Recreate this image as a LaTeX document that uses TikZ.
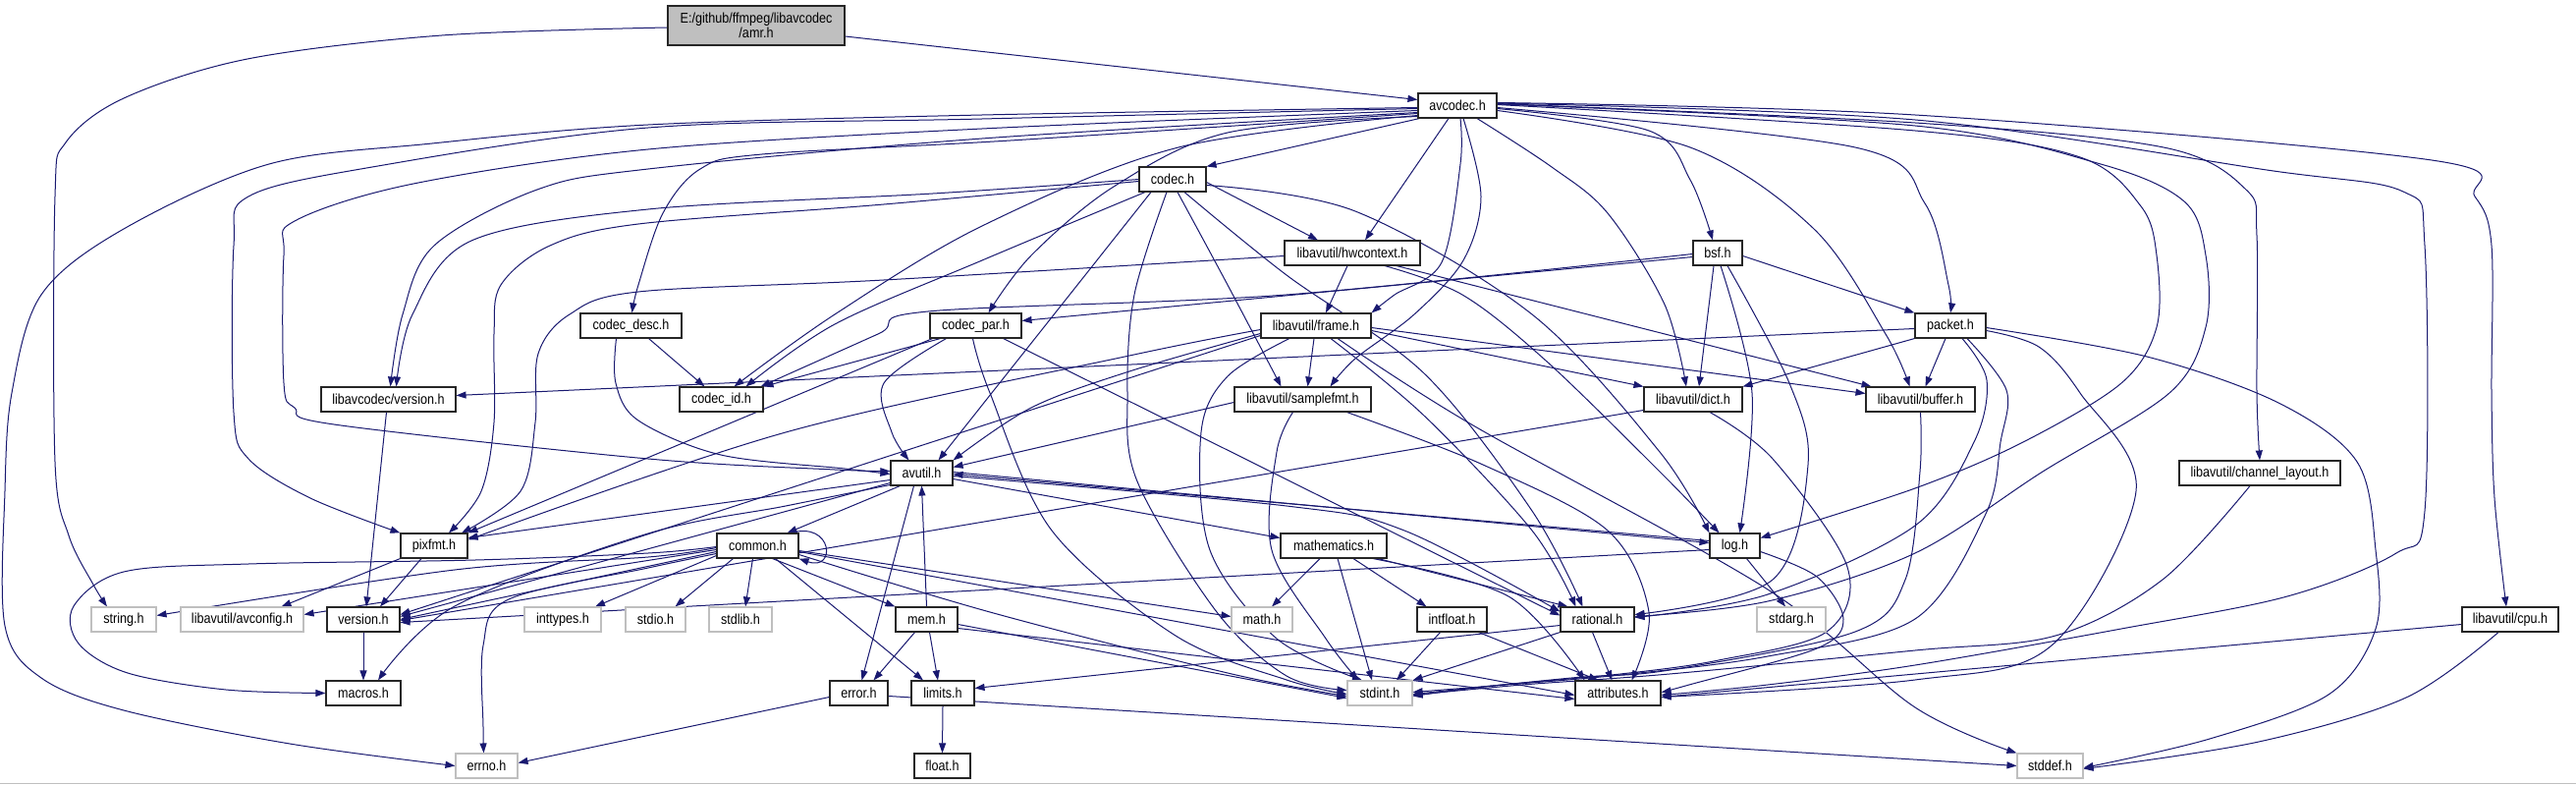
\documentclass[tikz,border=0pt]{standalone}
\usepackage{fontspec}
\setmainfont{Liberation Sans}[FakeStretch=0.87]
\usetikzlibrary{arrows.meta,backgrounds}
\definecolor{edgec}{HTML}{191970}
\definecolor{gbord}{HTML}{BFBFBF}
\definecolor{amrfill}{HTML}{BFBFBF}
\newcommand\cedge[1]{\draw[e] plot[smooth,tension=0.55] coordinates {#1};}
\begin{document}
\begin{tikzpicture}[x=1pt,y=-1pt,
  nd/.style={draw=black!85,line width=1.1pt,fill=white,inner sep=0pt,minimum height=25pt,text=black,font=\fontsize{14.5}{15}\selectfont},
  gn/.style={nd,draw=gbord},
  e/.style={draw=edgec,line width=1pt,-{Triangle[length=10pt,width=7pt]}}]
\useasboundingbox (0,0) rectangle (2623,799);
% nodes
\node[nd,fill=amrfill,minimum width=180pt,minimum height=40pt,align=center] (amr) at (770,26) {E:/github/ffmpeg/libavcodec\\/amr.h};
\node[nd,minimum width=80pt] (avcodec) at (1484,107.5) {avcodec.h};
\node[nd,minimum width=68pt] (codec) at (1194,182.5) {codec.h};
\node[nd,minimum width=138pt] (hwctx) at (1377,257.5) {libavutil/hwcontext.h};
\node[nd,minimum width=50pt] (bsf) at (1749,257.5) {bsf.h};
\node[nd,minimum width=103pt] (codecdesc) at (642.5,331.5) {codec\_desc.h};
\node[nd,minimum width=93pt] (codecpar) at (993.5,331.5) {codec\_par.h};
\node[nd,minimum width=112pt] (frame) at (1340,331.5) {libavutil/frame.h};
\node[nd,minimum width=72pt] (packet) at (1986,331.5) {packet.h};
\node[nd,minimum width=137pt] (lversion) at (395.5,406.5) {libavcodec/version.h};
\node[nd,minimum width=85pt] (codecid) at (734.5,406.5) {codec\_id.h};
\node[nd,minimum width=139pt] (samplefmt) at (1326.5,406.5) {libavutil/samplefmt.h};
\node[nd,minimum width=100pt] (dict) at (1724,406.5) {libavutil/dict.h};
\node[nd,minimum width=111pt] (buffer) at (1955.5,406.5) {libavutil/buffer.h};
\node[nd,minimum width=63pt] (avutil) at (938.5,481.5) {avutil.h};
\node[nd,minimum width=164pt] (chlayout) at (2301,481.5) {libavutil/channel\_layout.h};
\node[nd,minimum width=68pt] (pixfmt) at (442,555.5) {pixfmt.h};
\node[nd,minimum width=83pt] (common) at (771.5,555.5) {common.h};
\node[nd,minimum width=108pt] (mathematics) at (1358,555.5) {mathematics.h};
\node[nd,minimum width=51pt] (log) at (1766.5,555.5) {log.h};
\node[gn,minimum width=66pt] (string) at (126,630.5) {string.h};
\node[gn,minimum width=125pt] (avconfig) at (246.5,630.5) {libavutil/avconfig.h};
\node[nd,minimum width=74pt] (version) at (370,630.5) {version.h};
\node[gn,minimum width=78pt] (inttypes) at (573,630.5) {inttypes.h};
\node[gn,minimum width=61pt] (stdio) at (667.5,630.5) {stdio.h};
\node[gn,minimum width=64pt] (stdlib) at (754,630.5) {stdlib.h};
\node[nd,minimum width=63pt] (mem) at (943.5,630.5) {mem.h};
\node[gn,minimum width=62pt] (math) at (1285,630.5) {math.h};
\node[nd,minimum width=71pt] (intfloat) at (1478.5,630.5) {intfloat.h};
\node[nd,minimum width=75pt] (rational) at (1626.5,630.5) {rational.h};
\node[gn,minimum width=70pt] (stdarg) at (1824,630.5) {stdarg.h};
\node[nd,minimum width=98pt] (cpu) at (2556,630.5) {libavutil/cpu.h};
\node[nd,minimum width=76pt] (macros) at (370,705.5) {macros.h};
\node[nd,minimum width=59pt] (error) at (874.5,705.5) {error.h};
\node[nd,minimum width=64pt] (limits) at (960,705.5) {limits.h};
\node[gn,minimum width=66pt] (stdint) at (1405,705.5) {stdint.h};
\node[nd,minimum width=87pt] (attributes) at (1647.5,705.5) {attributes.h};
\node[gn,minimum width=63pt] (errno) at (495.5,779.5) {errno.h};
\node[nd,minimum width=57pt] (float) at (959.5,779.5) {float.h};
\node[gn,minimum width=67pt] (stddef) at (2087.5,779.5) {stddef.h};

\begin{scope}[on background layer]
\fill[white] (0,0) rectangle (2623,799);
\draw[gbord,line width=1pt] (0,797.5) -- (2623,797.5);
% amr.h
\draw[e] ([yshift=-11pt]amr.east) -- ([yshift=6pt]avcodec.west);
\cedge{([yshift=-2pt]amr.west) (450,36) (252,60) (126,100) (67,145) (56,200) (56,470) (70,545) (95,595) ([xshift=-17pt]string.north)}
% avcodec.h
\cedge{([yshift=-2pt]avcodec.west) (1000,117) (660,127) (440,146) (274,167) (126,233) (42,300) (12,400) (5,500) (5,637) (42,690) (126,723) (295,757) (errno.west)}
\cedge{([yshift=-3pt]avcodec.west) (1000,121) (660,130) (379,170) (253,200) (238,250) (238,420) (253,467) (316,507) (pixfmt.north west)}
\cedge{([yshift=-5pt]avcodec.west) (1000,131) (660,152) (421,187) (300,225) (289,260) (289,390) (300,415) (340,432) (660,467) (850,478) ([yshift=2pt]avutil.west)}
\cedge{([yshift=-7pt]avcodec.west) (1000,141) (660,172) (547,193) (442,250) (410,320) ([xshift=2pt]lversion.north)}
\cedge{([yshift=-8pt]avcodec.west) (1029,143) (776,157) (713,172) (675,217) (650,290) ([xshift=1pt]codecdesc.north)}
\cedge{([yshift=-10pt]avcodec.west) (1200,150) (1000,230) (850,320) ([xshift=13pt]codecid.north)}
\draw[e] ([xshift=2pt]avcodec.south west) -- (codec.north east);
\cedge{([yshift=-11pt]avcodec.west) (1250,135) (1134,190) (1050,260) ([xshift=13pt]codecpar.north)}
\draw[e] ([xshift=-9pt]avcodec.south) -- ([xshift=13pt]hwctx.north);
\cedge{([xshift=3pt]avcodec.south) (1487,167) (1468,267) (1420,300) (frame.north east)}
\cedge{([xshift=6pt]avcodec.south) (1508,200) (1490,265) (1440,320) (1380,365) ([xshift=28pt]samplefmt.north)}
\cedge{([xshift=20pt]avcodec.south) (1580,170) (1637,217) (1695,310) ([xshift=-7pt]dict.north)}
\cedge{([yshift=-3pt]avcodec.east) (1679,133) (1721,183) ([xshift=-5pt]bsf.north)}
\cedge{([yshift=-5pt]avcodec.east) (1721,150) (1847,233) (1920,340) ([xshift=-11pt]buffer.north)}
\cedge{([yshift=-2pt]avcodec.east) (1889,150) (1960,207) (1984,290) (packet.north)}
\cedge{([yshift=1pt]avcodec.east) (1950,133) (2118,160) (2180,210) (2196,260) (2196,333) (2160,390) (2060,450) (1950,497) ([yshift=8pt]log.east)}
\cedge{([yshift=1.5pt]avcodec.east) (1950,128) (2139,167) (2224,205) (2246,260) (2246,333) (2209,400) (2080,480) (1950,563) (1800,612) ([yshift=3pt]rational.east)}
\cedge{([yshift=2pt]avcodec.east) (1950,125) (2203,150) (2287,193) (2298,240) (2298,400) (chlayout.north)}
\cedge{([yshift=2.5pt]avcodec.east) (1950,122) (2308,173) (2447,195) (2469,250) (2469,520) (2440,563) (2329,607) (2160,640) (1950,677) (1800,697) ([yshift=-2pt]attributes.east)}
\cedge{([yshift=3pt]avcodec.east) (1950,117) (2476,163) (2520,200) (2537,250) (2537,400) (2540,507) ([xshift=-4pt]cpu.north)}
% codec.h
\cedge{(codec.west) (950,197) (660,213) (480,245) (420,320) ([xshift=8pt]lversion.north)}
\cedge{([yshift=-2pt]codec.west) (900,208) (650,228) (560,250) (510,290) (503,340) (503,430) (490,500) ([xshift=15pt]pixfmt.north)}
\draw[e] ([xshift=-22pt]codec.south) -- ([xshift=17pt]avutil.north);
\cedge{([xshift=-28pt]codec.south) (1000,265) (850,330) ([xshift=25pt]codecid.north)}
\draw[e] ([yshift=-3pt]codec.east) -- ([xshift=-35pt]hwctx.north);
\cedge{([xshift=5pt]codec.south) (1250,290) ([xshift=-22pt]samplefmt.north)}
\cedge{([xshift=12pt]codec.south) (1310,280) (1450,380) (1560,520) ([xshift=-15pt]rational.north)}
\cedge{([yshift=-6pt]codec.east) (1380,215) (1560,320) (1690,460) (log.north west)}
\cedge{([xshift=-6pt]codec.south) (1155,300) (1148,400) (1158,490) (1239,623) (1310,688) ([yshift=3pt]stdint.west)}
% codec_desc.h
\draw[e] ([xshift=18pt]codecdesc.south) -- ([xshift=-17pt]codecid.north);
\cedge{([xshift=-15pt]codecdesc.south) (627,390) (650,428) (734,463) (860,477) ([yshift=-1pt]avutil.west)}
% codec_par.h
\draw[e] ([xshift=-36pt]codecpar.south) -- (codecid.north east);
\cedge{([xshift=-30pt]codecpar.south) (900,390) (908,440) ([xshift=-13pt]avutil.north)}
\draw[e] ([xshift=-44pt]codecpar.south) -- (pixfmt.north east);
\cedge{([xshift=-3pt]codecpar.south) (1008,400) (1071,540) (1197,647) (1310,692) ([yshift=-1pt]stdint.west)}
\draw[e] ([xshift=28pt]codecpar.south) -- ([yshift=4pt]rational.west);
% hwcontext.h
\draw[e] ([xshift=-5pt]hwctx.south) -- ([xshift=10pt]frame.north);
\cedge{([yshift=-3pt]hwctx.west) (900,285) (650,297) (580,320) (548,360) (545,430) (530,500) ([xshift=28pt]pixfmt.north)}
\cedge{([xshift=33pt]hwctx.south) (1489,300) (1574,367) (1690,480) ([xshift=-16pt]log.north)}
\draw[e] ([xshift=45pt]hwctx.south) -- ([xshift=-50pt]buffer.north);
% bsf.h
\draw[e] ([yshift=-4pt]bsf.west) -- ([yshift=5pt]codecpar.east);
\cedge{([yshift=-1pt]bsf.west) (1310,300) (945,317) (894,340) ([xshift=40pt]codecid.north)}
\draw[e] ([xshift=-4pt]bsf.south) -- ([xshift=6pt]dict.north);
\cedge{([xshift=3pt]bsf.south) (1784,400) ([xshift=5pt]log.north)}
\cedge{([xshift=10pt]bsf.south) (1822,390) (1841,473) (1805,590) ([yshift=5pt]rational.east)}
\draw[e] ([yshift=-3pt]bsf.east) -- (packet.north west);
% frame.h
\cedge{([yshift=-4pt]frame.west) (1150,362) (800,440) ([yshift=6pt]pixfmt.east)}
\cedge{([yshift=-8pt]frame.west) (1150,378) (1050,415) (avutil.north east)}
\draw[e] ([xshift=-2pt]frame.south) -- ([xshift=5pt]samplefmt.north);
\cedge{([xshift=-27pt]frame.south) (1250,383) (1223,440) (1232,560) (1300,650) ([xshift=-18pt]stdint.north)}
\draw[e] ([yshift=-10pt]frame.west) -- ([yshift=5pt]version.east);
\cedge{([xshift=15pt]frame.south) (1450,423) (1560,540) ([xshift=-22pt]rational.north)}
\draw[e] ([yshift=-5pt]frame.east) -- (dict.north west);
\draw[e] ([yshift=-2pt]frame.east) -- ([yshift=6pt]buffer.west);
\cedge{([xshift=22pt]frame.south) (1500,433) (1800,600) (1950,720) (stddef.north west)}
% packet.h
\draw[e] ([yshift=-3pt]packet.west) -- ([yshift=4pt]lversion.east);
\draw[e] ([xshift=-5pt]packet.south) -- ([xshift=5pt]buffer.north);
\draw[e] (packet.south west) -- (dict.north east);
\cedge{([xshift=12pt]packet.south) (2023,387) (2010,450) (1950,535) (1800,605) ([yshift=2pt]rational.east)}
\cedge{([xshift=17pt]packet.south) (2043,397) (2037,450) (2022,523) (1950,630) (1800,668) (1650,687) (1520,698) ([yshift=1pt]stdint.east)}
\cedge{([yshift=-5pt]packet.east) (2076,353) (2118,400) (2175,500) (2089,657) (1950,692) ([yshift=-4pt]attributes.east)}
\cedge{([yshift=-2pt]packet.east) (2186,363) (2320,410) (2400,470) (2419,560) (2419,640) (2371,707) (2250,752) ([yshift=-2pt]stddef.east)}
% samplefmt.h
\draw[e] ([yshift=-3pt]samplefmt.west) -- ([yshift=6pt]avutil.east);
\cedge{([xshift=-10pt]samplefmt.south) (1300,460) (1295,560) (1350,650) ([xshift=-22pt]stdint.north)}
\cedge{([xshift=45pt]samplefmt.south) (1510,473) (1637,540) (1679,623) ([xshift=14pt]attributes.north)}
% dict.h
\draw[e] ([yshift=-11pt]dict.west) -- ([yshift=-1pt]version.east);
\cedge{([xshift=17pt]dict.south) (1805,467) (1881,577) (1860,643) (1750,672) (1650,686) (1520,698) ([yshift=-3pt]stdint.east)}
% buffer.h
\cedge{(buffer.south) (1955,480) (1940,590) (1889,643) (1700,682) (1600,690) ([yshift=-1pt]stdint.east)}
% avutil.h
\draw[e] ([xshift=-22pt]avutil.south) -- ([xshift=30pt]common.north);
\draw[e] ([xshift=-8pt]avutil.south) -- ([xshift=3pt]error.north);
\draw[e] ([yshift=-6pt]avutil.east) -- ([yshift=8pt]mathematics.west);
\draw[e] ([yshift=1pt]avutil.east) -- ([yshift=3pt]log.west);
\cedge{([yshift=-3pt]avutil.east) (1310,515) (1430,540) ([yshift=8pt]rational.west)}
\draw[e] ([yshift=-10pt]avutil.west) -- ([yshift=3pt]version.east);
\cedge{([yshift=-12pt]avutil.west) (800,515) (660,543) (463,617) ([xshift=15pt]macros.north)}
\draw[e] ([yshift=-7pt]avutil.west) -- ([yshift=8pt]pixfmt.east);
% log.h
\draw[e] ([yshift=5pt]log.west) -- ([yshift=-1pt]avutil.east);
\draw[e] ([xshift=12pt]log.south) -- ([xshift=-6pt]stdarg.north);
\draw[e] ([yshift=-4pt]log.west) -- ([yshift=-3pt]version.east);
\cedge{([yshift=-6pt]log.east) (1850,587) (1877,630) (1850,660) (1720,697) ([yshift=1pt]attributes.east)}
% mathematics.h
\draw[e] ([xshift=-14pt]mathematics.south) -- ([xshift=10pt]math.north);
\draw[e] ([xshift=4pt]mathematics.south) -- ([xshift=-8pt]stdint.north);
\draw[e] ([xshift=20pt]mathematics.south) -- ([xshift=-26pt]intfloat.north);
\draw[e] ([xshift=45pt]mathematics.south) -- ([xshift=-30pt]rational.north);
\cedge{([xshift=40pt]mathematics.south) (1536,607) ([xshift=-34pt]attributes.north)}
% intfloat.h
\draw[e] ([xshift=-12pt]intfloat.south) -- ([xshift=17pt]stdint.north);
\draw[e] ([xshift=27pt]intfloat.south) -- ([xshift=-20pt]attributes.north);
% rational.h
\draw[e] ([yshift=-6pt]rational.west) -- ([yshift=5pt]limits.east);
\draw[e] (rational.south west) -- (stdint.north east);
\draw[e] ([xshift=-5pt]rational.south) -- ([xshift=-6pt]attributes.north);
% common.h
\draw[e] ([xshift=-8pt]common.north east) .. controls (848,530) and (852,582) .. (common.south east);
\cedge{([yshift=-8pt]common.west) (660,578) (518,610) (492,657) (492,740) ([xshift=-3pt]errno.north)}
\cedge{([yshift=-2pt]common.west) (660,567) (463,580) ([yshift=4pt]string.east)}
\draw[e] ([yshift=-4pt]common.west) -- ([yshift=5pt]avconfig.east);
\draw[e] ([yshift=-6pt]common.west) -- (version.east);
\draw[e] ([yshift=-10pt]common.west) -- ([xshift=33pt]inttypes.north);
\draw[e] ([xshift=-25pt]common.south) -- ([xshift=20pt]stdio.north);
\draw[e] ([xshift=-5pt]common.south) -- ([xshift=5pt]stdlib.north);
\draw[e] ([xshift=15pt]common.south) -- (mem.north west);
\draw[e] ([xshift=18pt]common.south) -- ([xshift=-20pt]limits.north);
\draw[e] ([yshift=-5pt]common.east) -- ([yshift=3pt]math.west);
\draw[e] ([yshift=-6pt]common.east) -- ([yshift=-2pt]attributes.west);
\cedge{([yshift=-9pt]common.east) (1008,623) (1250,685) ([yshift=-3pt]stdint.west)}
\cedge{([yshift=-1pt]common.west) (660,563) (484,570) (253,574) (126,582) (75,617) (80,655) (130,685) (230,702) (macros.west)}
% mem.h
\draw[e] (mem.north) -- (avutil.south);
\draw[e] ([xshift=-12pt]mem.south) -- ([xshift=15pt]error.north);
\draw[e] ([xshift=3pt]mem.south) -- ([xshift=-5pt]limits.north);
\draw[e] ([yshift=-5pt]mem.east) -- ([yshift=-5pt]stdint.west);
\draw[e] ([yshift=-9pt]mem.east) -- ([yshift=-6pt]attributes.west);
% error.h, limits.h
\draw[e] ([yshift=-4pt]error.west) -- ([yshift=3pt]errno.east);
\draw[e] ([yshift=-3pt]error.east) -- (stddef.west);
\draw[e] (limits.south) -- (float.north);
% cpu.h
\draw[e] ([yshift=-5pt]cpu.west) -- ([yshift=-4pt]attributes.east);
\cedge{([xshift=-12pt]cpu.south) (2450,710) (2300,755) ([yshift=-3pt]stddef.east)}
% channel_layout.h
\cedge{([xshift=-10pt]chlayout.south) (2202,590) (2093,647) (1950,662) (1700,686) (1550,697) ([yshift=-2pt]stdint.east)}
% version headers, pixfmt
\draw[e] ([xshift=-2pt]lversion.south) -- ([xshift=3pt]version.north);
\draw[e] (pixfmt.south west) -- ([xshift=40pt]avconfig.north);
\draw[e] ([xshift=-13pt]pixfmt.south) -- ([xshift=17pt]version.north);
\draw[e] (version.south) -- (macros.north);
\end{scope}
\end{tikzpicture}
\end{document}
